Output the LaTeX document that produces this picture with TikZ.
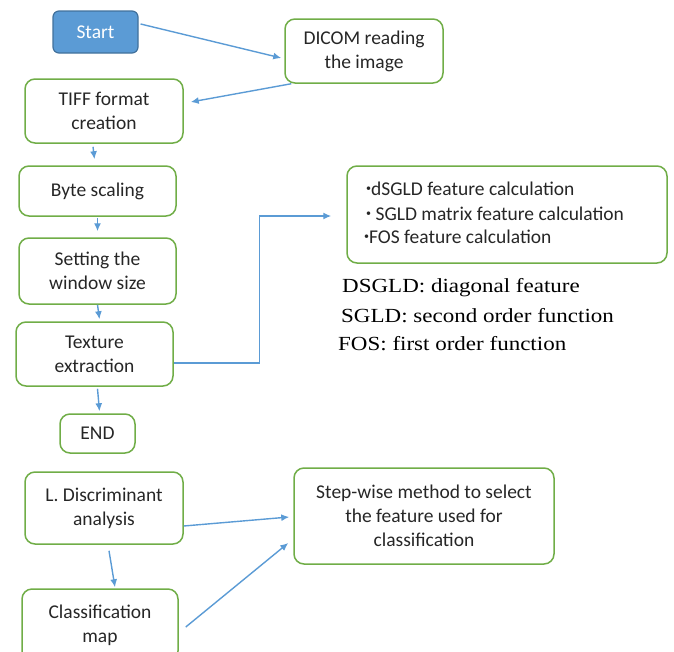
\documentclass[tikz,border=0pt]{standalone}
\usepackage{fontspec}
\setmainfont{Carlito}
\newfontfamily\legendfont[FakeStretch=1.15]{Liberation Serif}
\usetikzlibrary{arrows.meta}
\definecolor{boxgreen}{HTML}{70AD47}
\definecolor{linkblue}{HTML}{5B9BD5}
\definecolor{startfill}{HTML}{5B9BD5}
\definecolor{startdraw}{HTML}{41719C}
\tikzset{
  box/.style={draw=boxgreen, line width=1.5pt, rounded corners=10pt, align=center,
    font=\fontsize{19.5}{24}\selectfont, text=black!85, inner sep=0pt},
  startbox/.style={draw=startdraw, fill=startfill, line width=1.2pt, rounded corners=6pt,
    font=\fontsize{19.5}{24}\selectfont, text=white, inner sep=0pt},
  arr/.style={draw=linkblue, line width=1.4pt, -{Latex[length=8pt,width=7pt]}},
  legend/.style={anchor=west, font=\legendfont\fontsize{20}{22}\selectfont, inner sep=0pt},
  bul/.style={anchor=west, font=\fontsize{19.5}{22}\selectfont, text=black!85, inner sep=0pt}
}
\newcommand{\smbul}{{\fontsize{10}{10}\selectfont\raisebox{4pt}{•}}}
\begin{document}
\begin{tikzpicture}[x=1pt,y=-1pt]
\useasboundingbox (0,0) rectangle (674,651);
\clip (0,0) rectangle (674,651);
\node[startbox, minimum width=85pt, minimum height=42pt] (start) at (95.5,32) {Start};
\node[box, minimum width=158pt, minimum height=64pt] (dicom) at (364,51) {DICOM reading\\the image};
\node[box, minimum width=158pt, minimum height=64pt] (tiff) at (104,111) {TIFF format\\creation};
\node[box, minimum width=157pt, minimum height=50pt] (byte) at (97.5,191) {Byte scaling};
\node[box, minimum width=157pt, minimum height=66pt] (setting) at (97.5,271) {Setting the\\window size};
\node[box, minimum width=157pt, minimum height=64pt] (texture) at (94.5,354) {Texture\\extraction};
\node[box, minimum width=75pt, minimum height=39pt] (end) at (97.5,433.5) {END};
\node[box, minimum width=320pt, minimum height=97pt] (feat) at (507,214.5) {};
\node[bul] (f1) at (366,189) {\smbul dSGLD feature calculation};
\node[bul] (f2) at (366,214) {\smbul\ SGLD matrix feature calculation};
\node[bul] (f3) at (364,237) {\smbul FOS feature calculation};
\node[legend] (l1) at (342,288) {DSGLD: diagonal feature};
\node[legend] (l2) at (341,316) {SGLD: second order function};
\node[legend] (l3) at (338,344) {FOS: first order function};
\node[box, minimum width=158pt, minimum height=72pt] (lda) at (104,508) {L. Discriminant\\analysis};
\node[box, minimum width=156pt, minimum height=72pt] (cmap) at (100,625) {Classification\\map};
\node[box, minimum width=260pt, minimum height=96pt] (step) at (424,516) {Step-wise method to select\\the feature used for\\classification};
\draw[arr] ([xshift=2pt,yshift=8pt]start.east) -- ([xshift=-3pt,yshift=-7pt]dicom.west);
\draw[arr] ([xshift=7pt]dicom.south west) -- ([xshift=7pt,yshift=9pt]tiff.east);
\draw[arr] ([xshift=-11pt,yshift=-3pt]tiff.south) -- ([xshift=-3pt,yshift=6pt]byte.north);
\draw[arr] ([yshift=-1pt]byte.south) -- ([yshift=6pt]setting.north);
\draw[arr] (setting.south) -- ([xshift=5pt,yshift=2pt]texture.north);
\draw[arr] ([xshift=3pt,yshift=-2pt]texture.south) -- ([xshift=2pt,yshift=2pt]end.north);
\coordinate (ftip) at ([xshift=-15pt,yshift=-1.5pt]feat.west);
\draw[arr] ([yshift=-9pt]texture.east) -- ++(86,0) |- (ftip);
\draw[arr] ([xshift=5pt,yshift=-6pt]lda.south) -- ([xshift=15pt,yshift=1pt]cmap.north);
\draw[arr] ([yshift=-18pt]lda.east) -- ([xshift=-4pt,yshift=-1pt]step.west);
\draw[arr] ([xshift=7pt,yshift=-2pt]cmap.east) -- ([xshift=-5pt,yshift=-27pt]step.west);
\end{tikzpicture}
\end{document}
